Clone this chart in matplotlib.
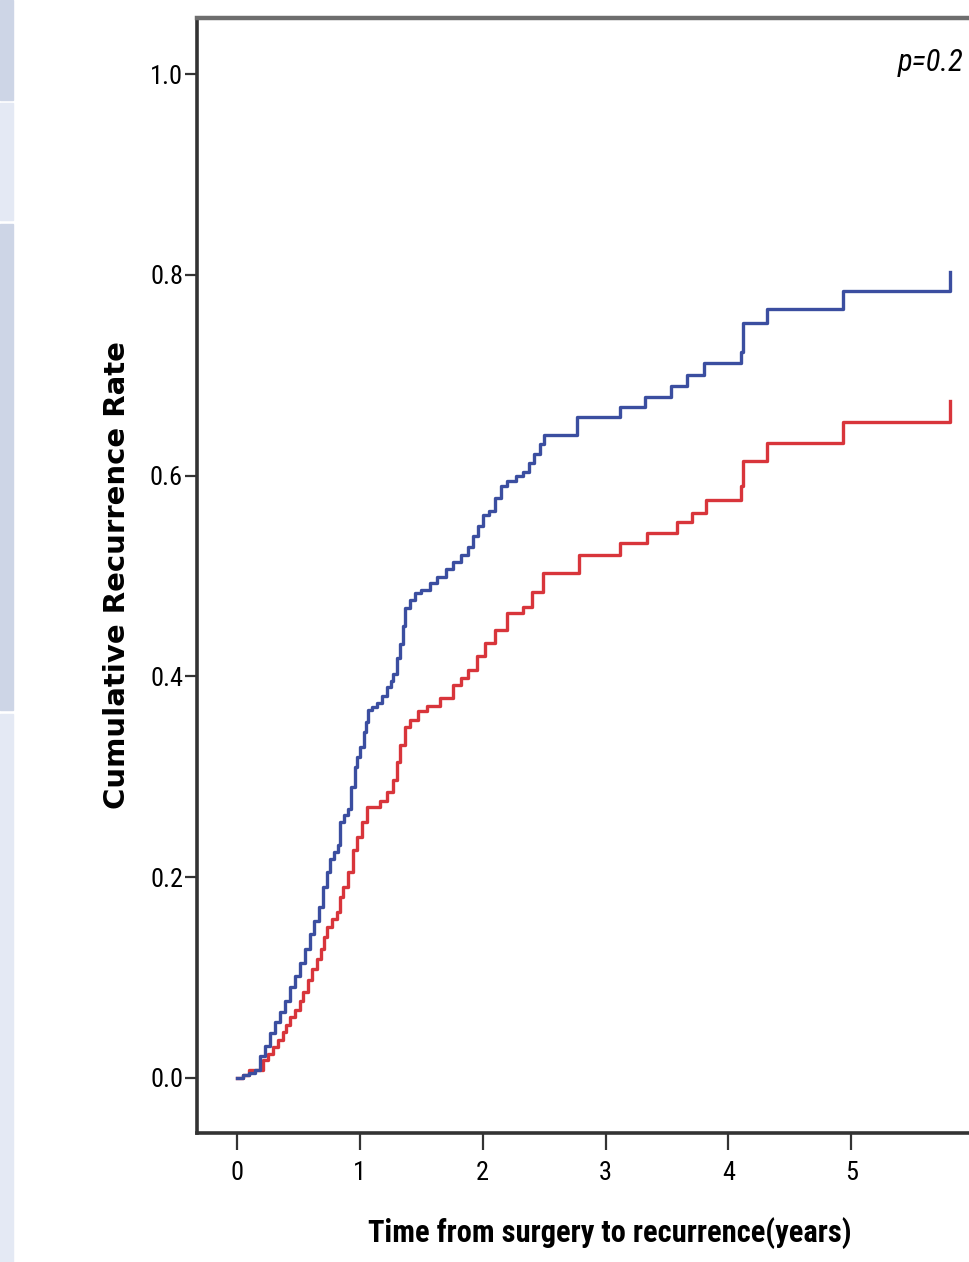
import matplotlib
matplotlib.use("Agg")
import matplotlib.pyplot as plt
from matplotlib import font_manager
from matplotlib.patches import Rectangle

# ---------- DATA ----------
blue_t = [0, 0.05, 0.10, 0.15, 0.19, 0.23, 0.27, 0.31, 0.35, 0.39, 0.43, 0.47, 0.51, 0.55,
          0.59, 0.63, 0.67, 0.70, 0.73, 0.76, 0.79, 0.82, 0.84, 0.87, 0.90, 0.93, 0.96, 0.98,
          1.00, 1.03, 1.05, 1.07, 1.10, 1.14, 1.18, 1.22, 1.25, 1.27, 1.30, 1.33, 1.35, 1.37,
          1.41, 1.45, 1.50, 1.57, 1.63, 1.70, 1.76, 1.82, 1.88, 1.92, 1.96, 2.00, 2.05, 2.10,
          2.15, 2.20, 2.27, 2.33, 2.38, 2.42, 2.47, 2.50, 2.77, 3.12, 3.32, 3.53, 3.66, 3.80,
          4.10, 4.12, 4.31, 4.93, 5.80]
blue_v = [0, 0.003, 0.005, 0.008, 0.022, 0.032, 0.045, 0.056, 0.066, 0.077, 0.090, 0.101, 0.114, 0.128,
          0.143, 0.156, 0.170, 0.190, 0.205, 0.218, 0.225, 0.232, 0.255, 0.262, 0.268, 0.290, 0.310, 0.320,
          0.330, 0.345, 0.355, 0.366, 0.369, 0.373, 0.380, 0.389, 0.395, 0.402, 0.418, 0.432, 0.450, 0.468,
          0.476, 0.483, 0.486, 0.493, 0.499, 0.507, 0.514, 0.521, 0.529, 0.540, 0.550, 0.561, 0.565, 0.578,
          0.590, 0.595, 0.600, 0.604, 0.613, 0.622, 0.632, 0.640, 0.658, 0.668, 0.678, 0.689, 0.700, 0.712,
          0.723, 0.752, 0.766, 0.784, 0.803]

red_t = [0, 0.05, 0.10, 0.21, 0.25, 0.29, 0.33, 0.37, 0.40, 0.43, 0.47, 0.51, 0.54, 0.58, 0.61,
         0.65, 0.68, 0.71, 0.73, 0.77, 0.81, 0.84, 0.86, 0.90, 0.94, 0.98, 1.02, 1.06, 1.16,
         1.22, 1.27, 1.30, 1.33, 1.37, 1.41, 1.47, 1.55, 1.65, 1.76, 1.82, 1.88, 1.95, 2.02,
         2.10, 2.20, 2.33, 2.40, 2.49, 2.78, 3.12, 3.34, 3.58, 3.70, 3.82, 4.10, 4.12, 4.31,
         4.93, 5.80]
red_v = [0, 0.003, 0.008, 0.018, 0.024, 0.031, 0.038, 0.046, 0.053, 0.061, 0.068, 0.077, 0.085, 0.097, 0.108,
         0.118, 0.128, 0.140, 0.150, 0.158, 0.165, 0.180, 0.190, 0.205, 0.227, 0.240, 0.255, 0.270, 0.276,
         0.285, 0.297, 0.315, 0.332, 0.350, 0.357, 0.365, 0.370, 0.378, 0.391, 0.398, 0.406, 0.420, 0.433,
         0.446, 0.463, 0.469, 0.484, 0.503, 0.521, 0.533, 0.543, 0.554, 0.563, 0.576, 0.590, 0.615, 0.633,
         0.653, 0.674]

x_ticks = [0, 1, 2, 3, 4, 5]
y_ticks = [0.0, 0.2, 0.4, 0.6, 0.8, 1.0]
y_labels = ["0.0", "0.2", "0.4", "0.6", "0.8", "1.0"]
p_text = "p=0.2"

# ---------- FONTS ----------
names = {f.name for f in font_manager.fontManager.ttflist}
narrow = "Liberation Sans"
for cand in ["Roboto Condensed", "Liberation Sans Narrow", "DejaVu Sans Condensed"]:
    if cand in names:
        narrow = cand
        break

# ---------- PLOT ----------
fig = plt.figure(figsize=(9.69, 12.62), dpi=100)

# slide background strip on the left
strip = [(0, 100, "#cdd5e6"), (103, 220, "#e4e9f4"), (224, 710, "#cdd5e6"), (714, 1262, "#e4e9f4")]
for y0, y1, c in strip:
    fig.patches.append(Rectangle((0, 1 - y1 / 1262), 13 / 969, (y1 - y0) / 1262,
                                 transform=fig.transFigure, color=c, zorder=0))

ax = fig.add_axes([197 / 969, 1 - 1133 / 1262, 814 / 969, 1115 / 1262])
ax.step(blue_t, blue_v, where="post", color="#3b4ea0", lw=2.4, zorder=3)
ax.step(red_t, red_v, where="post", color="#d8353b", lw=2.4, zorder=2)

ax.set_xlim(-0.326, 6.3)
ax.set_ylim(-0.055, 1.056)
ax.set_xticks(x_ticks)
ax.set_xticklabels([str(t) for t in x_ticks], fontfamily=narrow, fontsize=19)
ax.set_yticks(y_ticks)
ax.set_yticklabels(y_labels, fontfamily=narrow, fontsize=19)
ax.tick_params(axis="y", direction="out", length=9, width=1.6, color="#333333", pad=1)
ax.tick_params(axis="x", direction="out", length=12, width=1.6, color="#333333", pad=8)

for side in ["left", "bottom"]:
    ax.spines[side].set_linewidth(2.6)
    ax.spines[side].set_color("#333333")
ax.spines["top"].set_linewidth(3.2)
ax.spines["top"].set_color("#6e6e6e")

ax.set_ylabel("Cumulative Recurrence Rate", fontfamily="DejaVu Sans", fontweight="bold",
              fontsize=21, labelpad=14)
ax.set_xlabel("Time from surgery to recurrence(years)", fontfamily=narrow, fontweight="bold",
              fontsize=22)
ax.xaxis.set_label_coords(0.507, -0.075)

ax.text(5.38, 1.012, p_text, fontfamily=narrow, fontstyle="italic", fontsize=22,
        ha="left", va="center")

fig.savefig("out.png", dpi=100)
